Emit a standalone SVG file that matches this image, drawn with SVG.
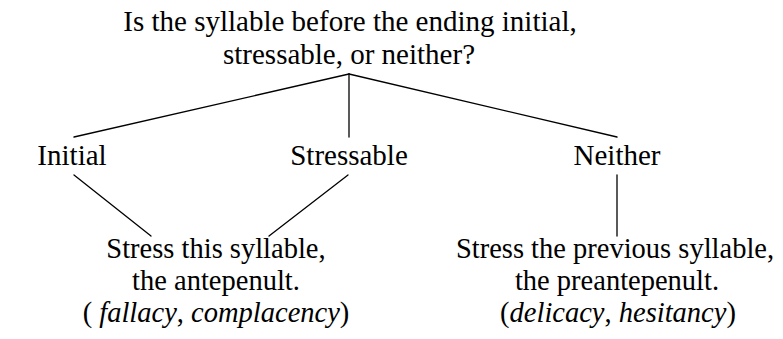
<svg xmlns="http://www.w3.org/2000/svg" width="783" height="339" viewBox="0 0 783 339">
<style>
  text { font-family: "Liberation Serif", "Times New Roman", serif; font-size: 29px; fill: #000; text-anchor: middle; }
  .sm { font-size: 28.5px; }
  .it { font-style: italic; }
  .edge { stroke: #000; stroke-width: 1.3; fill: none; stroke-linecap: round; }
</style>
<rect width="783" height="339" fill="#fff"/>
<g id="connectors">
  <line class="edge" x1="349" y1="74" x2="74" y2="137"/>
  <line class="edge" x1="349" y1="74" x2="349" y2="137"/>
  <line class="edge" x1="349" y1="74" x2="617" y2="137"/>
  <line class="edge" x1="74" y1="175" x2="151" y2="236"/>
  <line class="edge" x1="348" y1="175" x2="269" y2="236"/>
  <line class="edge" x1="617" y1="175" x2="617" y2="236"/>
</g>
<g id="question">
  <text x="350" y="31">Is the syllable before the ending initial,</text>
  <text x="349" y="64">stressable, or neither?</text>
</g>
<g id="initial"><text x="72" y="165">Initial</text></g>
<g id="stressable"><text x="349" y="165">Stressable</text></g>
<g id="neither"><text x="617" y="165">Neither</text></g>
<g id="antepenult">
  <text class="sm" x="216" y="258">Stress this syllable,</text>
  <text class="sm" x="216" y="290">the antepenult.</text>
  <text class="sm" x="216" y="322">( <tspan class="it">fallacy</tspan>, <tspan class="it">complacency</tspan>)</text>
</g>
<g id="preantepenult">
  <text class="sm" x="615" y="258">Stress the previous syllable,</text>
  <text class="sm" x="617" y="290">the preantepenult.</text>
  <text class="sm" x="618" y="322">(<tspan class="it">delicacy</tspan>, <tspan class="it">hesitancy</tspan>)</text>
</g>
</svg>
